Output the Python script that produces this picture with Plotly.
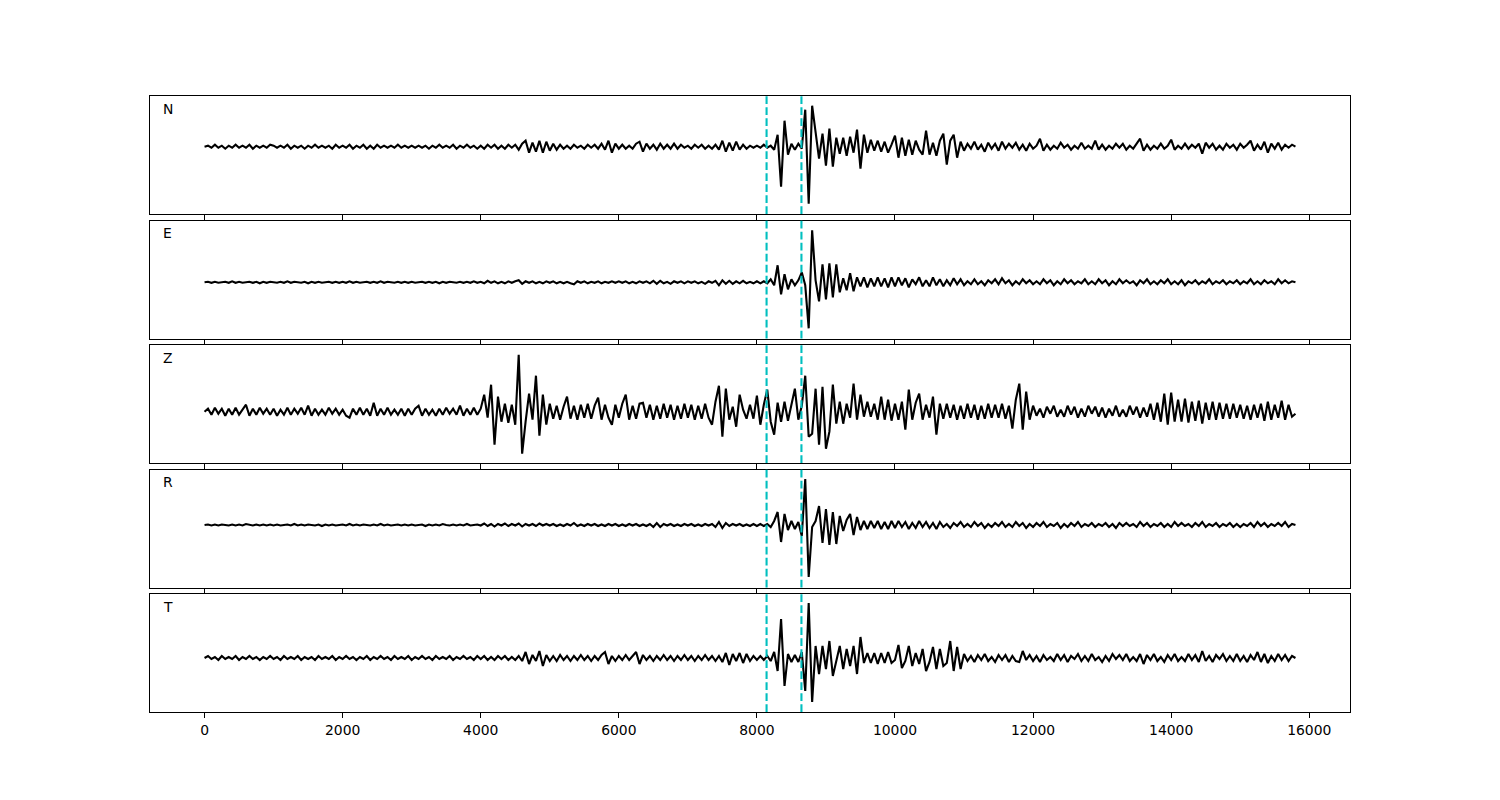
import numpy as np
import plotly.graph_objects as go

# ---------------- data (amplitudes, arbitrary units) ----------------
sample_step = 50
components = ["N", "E", "Z", "R", "T"]
picks = [8140, 8645]      # phase picks (dashed cyan lines)
x_ticks = [0, 2000, 4000, 6000, 8000, 10000, 12000, 14000, 16000]

N_values = [
    0, 1, -1, 2, -1, 1, -2, 1, -1, 2, -1, 1, -1, 2, -2, 1, -1, 1, -1, 2,
    1, -1, 1, -1, 2, -2, 1, -1, 1, -2, 1, -1, 2, -1, 1, -1, 1, -2, 2, -1,
    1, -1, 2, -2, 1, -1, 2, -2, 1, -2, 2, -1, 1, -1, 1, -1, 2, -1, 1, -1,
    1, -1, 1, -1, 1, -2, 1, -1, 2, -1, 1, -1, 2, -2, 1, -1, 2, -1, 1, -2,
    1, -2, 2, -1, 2, -2, 1, -2, 2, -1, 2, -3, 3, 6, -6, 4, -5, 6, -6, 5,
    -4, 3, -3, 2, -2, 1, -2, 2, -1, 1, -2, 2, -1, 2, -2, 3, -3, 6, -6, 3,
    -2, 2, -2, 1, -2, 3, 5, -5, 3, -2, 2, -3, 3, -2, 2, -2, 3, -2, 2, -1,
    1, -2, 2, -1, 2, -2, 1, -2, 2, -3, 6, -5, 4, -4, 5, -3, 2, -2, 1, -1,
    1, -1, 2, -1, 1, -3, 12, -40, 26, -8, 3, -3, 3, -2, 37, -57, 41, 15, -12, 13,
    -19, 18, -20, 9, -7, 9, -9, 10, -6, 17, -22, 12, -6, 7, -4, 6, -5, 5, -6, 2,
    11, -11, 9, -9, 7, -8, 6, -3, -8, 16, -8, 4, -9, 6, 13, -18, 6, 12, -11, 5,
    -4, 3, -2, 5, -3, 2, -5, 4, -2, 3, -4, 5, -2, 3, -1, 4, -3, 2, -4, 3,
    -2, 1, 8, -4, 2, -3, 1, -2, 4, -1, 2, -3, 1, -2, 4, -2, 1, -2, 6, -3,
    2, -3, 1, -2, 3, -1, 3, -3, 1, -2, 3, 8, -4, 2, -3, 1, -2, 3, -2, 1,
    7, -3, 1, -2, 3, -2, 2, -1, 3, -7, 4, -1, 3, -3, 1, -3, 3, -1, 2, -3,
    3, -1, 2, 6, -4, 2, -3, 5, -6, 3, -2, 4, -3, 2, -1, 2, 0,
]

E_values = [
    0, 0.5, -0.5, 0.5, -0.5, 0, 0.5, -0.5, 1, -0.5, 0.5, -0.5, 0, 0.5, -0.5, 0.5, -1, 0.5, -0.5, 0.5,
    0, -0.5, 0.5, -0.5, 1, -0.5, 0.5, 0, -0.5, 0.5, -1, 0.5, -0.5, 0.5, -0.5, 0, 0.5, -0.5, 0.5, -0.5,
    0.5, -0.5, 1, -0.5, 0.5, -0.5, 0, 0.5, -0.5, 0.5, -0.5, 1, -0.5, 0.5, 0, -0.5, 0.5, -0.5, 0.5, -0.5,
    0.5, -0.5, 0, 0.5, -0.5, 0.5, -0.5, 0.5, -1, 0.5, -0.5, 0.5, 0, -0.5, 0.5, -0.5, 0.5, -0.5, 1, -0.5,
    0.5, -1, 1.5, -0.5, 1, -1, 0.5, -1, 1, -0.5, 1, 2, -1.5, 1, -0.5, 1, -1, 0.5, -1, 1,
    -0.5, 1, -1, 0.5, -1, 0.5, -1, -2, 1, -0.5, 1, -1, 0.5, -0.5, 1, -1, 0.5, -0.5, 1, -0.5,
    1, -0.5, 1, -1, 0.5, -1, 1, -0.5, 1, -1, 1.5, -1.5, 1.5, -1, 0.5, -1.5, 1, -0.5, 1, -1,
    1, -0.5, 1, -1, 0.5, -1.5, 1, -0.5, 1.5, -3, 2, -1.5, 1.5, -1.5, 1, -1, 1.5, -1, 0.5, -1,
    1, -1, 1, -1, 3, -3, 17, -12, 8, -7, 3, -3, 2, 10, -3, -46, 52, 2, -19, 18,
    -17, 19, -15, 18, -10, 4, -8, 9, -9, 5, -4, 5, -5, 4, -4, 5, -4, 4, -5, 5,
    -4, 5, -3, 4, -5, 3, -2, 5, -4, 2, -4, 5, -3, 3, -4, 2, -3, 4, -2, 3,
    -3, 1, -2, 3, -2, 1, -3, 2, -1, 3, -2, 4, -1, 2, -3, 1, -2, 3, -1, 2,
    -2, 1, -2, 3, -1, 2, -3, 1, -2, 3, -1, 2, -2, 1, -1, 3, -2, 1, -2, 3,
    -1, 2, -3, 1, -2, 3, -1, 2, -1, 1, -3, 2, -1, 3, -2, 1, -2, 2, -1, 3,
    -2, 1, -2, 2, -3, 1, -1, 2, -2, 1, -1, 3, -2, 1, -1, 2, -2, 1, -1, 2,
    -2, 1, -1, 3, -2, 1, -2, 2, -1, 1, -2, 3, -1, 2, -1, 1, 0,
]

Z_values = [
    0, 3, -3, 4, -2, 3, -4, 3, -3, 4, -3, 2, 7, -4, 3, -3, 4, -2, 3, -3,
    3, -4, 2, -3, 4, -3, 3, -2, 4, -3, 6, -4, 3, -3, 2, -3, 4, -2, 3, -3,
    2, -4, -6, 3, -3, 4, -3, 3, -4, 9, -4, 3, -3, 4, -3, 2, -3, 3, -4, 3,
    -3, 3, 6, -4, 3, -3, 2, -4, 3, -3, 4, -2, 3, -3, 6, -4, 3, -3, 4, -3,
    3, 17, -6, 27, -33, 15, -10, 8, -11, 7, -13, 57, -42, -10, 18, -8, 36, -24, 17, -13,
    8, -7, 6, -8, 5, 15, -7, 6, -8, 7, -6, 8, -7, 6, 14, -8, 7, -6, -13, 7,
    -6, 8, 17, -8, 6, -7, 8, 9, -6, 7, -8, 6, -7, 8, -6, 7, -8, 6, -7, 8,
    -6, 7, -8, 6, -7, 8, -6, -13, 10, 26, -25, 23, -8, 5, -15, 17, 2, -7, 7, -7,
    16, -13, 7, 22, -10, -23, 9, -10, 10, -9, 8, 23, -8, 6, 36, -25, -22, 23, -33, 25,
    -37, -20, 27, -12, 10, -12, 8, -6, 28, -8, 17, -5, 10, -5, 8, -8, 15, -8, 12, -9,
    8, -8, 10, -18, 22, -8, 9, 18, -8, 7, -6, 15, -23, 8, -7, 8, -6, 7, -8, 6,
    -7, 8, -6, 7, -8, 6, -7, 8, -6, 7, -6, 8, -7, 6, -17, 12, 28, -18, 20, -8,
    6, -4, 3, -6, 5, -2, 6, -5, 2, -5, 6, -3, 5, -6, 3, -5, 6, -2, 5, -5,
    4, -6, 3, -4, 6, -5, 2, -5, 6, -3, 5, -6, 4, -5, 8, -8, 9, -10, 18, -13,
    19, -10, 12, -10, 13, -11, 10, -9, 11, -12, 9, -8, 10, -8, 9, -7, 8, -7, 8, -6,
    7, -7, 6, -8, 7, -6, 8, -9, 10, -8, 7, -6, 11, -8, 7, -5, -2,
]

R_values = [
    0, 0.5, -0.5, 0.5, -0.5, 0.5, 0, -0.5, 0.5, -0.5, 0.5, -0.5, 1, 0, -0.5, 0.5, -0.5, 0.5, -0.5, 0.5,
    -0.5, 0.5, -0.5, 0, 0.5, -0.5, 1, -0.5, 0.5, -0.5, 0.5, 0, -0.5, 0.5, -1, 0.5, -0.5, 0.5, -0.5, 0,
    0.5, -0.5, 1, -0.5, 0.5, -0.5, 0.5, 0, -0.5, 0.5, -0.5, 1, -0.5, 0.5, -0.5, 0, 0.5, -0.5, 0.5, -0.5,
    0.5, -0.5, 0, 0.5, -1, 0.5, -0.5, 0.5, -0.5, 1, 0, -0.5, 0.5, -0.5, 0.5, -0.5, 1, -0.5, 0, 0.5,
    -0.5, 1.5, -1, 1, -1.5, 1, -0.5, 1.5, -1, 1, -0.5, 1.5, -1.5, 1, -0.5, 1, -1, 1.5, -0.5, 1,
    -0.5, 1, -1, 0.5, -1, 1, -0.5, 2, -1, 0.5, -1, 1, -0.5, 1, -1, 0.5, -1, 1, -0.5, 1,
    -1, 0.5, -1, 1, -0.5, 1, -1, 0.5, -1, 1, -2, 2, -2, 1, -0.5, 1, -1, 0.5, -1, 1,
    -0.5, 1, -1, 0.5, -1, 1, -0.5, 1, -2, 3, -3, 2, -1, 1, -0.5, 1, -1, 0.5, -1, 1,
    -1, 1, -1, 1, -2, 4, 13, -17, 11, -5, 4, -4, 3, -11, 46, -52, -2, 4, 19, -18,
    16, -20, 13, -19, 9, -6, 5, 11, -10, 8, -5, 4, -4, 4, -3, 4, -4, 3, -4, 4,
    -3, 4, -2, 3, -4, 2, -3, 4, -2, 3, -3, 2, -4, 3, -2, 1, -3, 2, -1, 3,
    -2, 1, -2, 3, -1, 2, -3, 1, -2, 2, -1, 3, -2, 1, -2, 3, -1, 2, -3, 1,
    -2, 2, -1, 3, -2, 1, -1, 2, -3, 1, -2, 2, -1, 3, -2, 1, -1, 2, -2, 1,
    -1, 2, -2, 1, -3, 2, -1, 2, -1, 1, -2, 3, -1, 2, -2, 1, -1, 2, -2, 1,
    -2, 3, -1, 2, -1, 1, -2, 2, -1, 3, -2, 1, -1, 2, -2, 1, -1, 2, -2, 1,
    -2, 1, -1, 2, -2, 3, -1, 2, -2, 1, -1, 2, -1, 3, -2, 1, 0,
]

T_values = [
    0, 2, -1, 1, -2, 2, -1, 1, -1, 2, -2, 1, -1, 2, -1, 1, -2, 1, -1, 2,
    -1, 1, -2, 2, -1, 1, -1, 2, -2, 1, -1, 1, -2, 2, -1, 1, -1, 2, -2, 1,
    -1, 2, -1, 1, -2, 1, -1, 2, -2, 1, -1, 2, -1, 1, -2, 2, -1, 1, -1, 2,
    -2, 1, -1, 2, -1, 1, -2, 2, -1, 1, -1, 2, -2, 1, -1, 2, -1, 1, -2, 2,
    -1, 2, -2, 1, -2, 2, -1, 2, -2, 1, -2, 2, -3, 6, -6, 3, -3, 7, -8, 3,
    -3, 2, -3, 3, -2, 2, -3, 2, -2, 3, -2, 2, -3, 2, -2, 3, 6, -6, 2, -3,
    2, -2, 3, -2, 2, 6, -6, 3, -2, 2, -3, 2, -2, 3, -2, 2, -3, 2, -2, 3,
    -2, 2, -3, 2, -2, 3, -2, 2, -3, 2, -4, 5, -7, 4, -3, 5, -5, 4, -3, 2,
    -2, 2, -2, 2, -3, 6, -13, 39, -28, 4, -4, 3, -4, 6, -33, 55, -44, 12, -16, 12,
    -11, 17, -18, -4, 12, -11, 9, -8, 12, -16, 21, -5, 5, -5, 5, -6, 5, -5, 6, -5,
    -2, 13, -10, -3, 12, -8, 5, -6, 9, -13, -4, 11, -11, 9, -8, -5, 17, -13, 11, -11,
    4, -3, 2, -4, 3, -2, 4, -3, 1, -4, 3, -2, 3, -4, 2, -3, -4, 7, -2, 3,
    -3, 2, -4, 3, -2, 1, -3, 4, -2, 3, -4, 2, -1, 4, -3, 2, -3, 4, -2, 1,
    -4, 2, -3, 4, -1, 3, -2, 4, -3, 1, -3, 4, -6, 3, -2, 4, -3, 1, -4, 3,
    -2, 4, -3, 1, -3, 4, -2, 3, -4, 7, -3, 2, -4, 3, -1, 4, -3, 2, -3, 4,
    -3, 2, -4, 3, -2, 6, -4, 4, -5, 2, -3, 4, -2, 3, -3, 2, 0,
]

traces = {"N": N_values, "E": E_values, "Z": Z_values, "R": R_values, "T": T_values}

# ---------------- figure ----------------
W, H = 1500, 800
m_top, m_bot, m_left, m_right = 96, 88, 150, 150
panel_px = 118.0
gap_px = 6.5
plot_h = H - m_top - m_bot

# vertical view of each panel (amplitude units), set to match the reference framing
y_views = {
    "N": [-67.3, 50.7],
    "E": [-56.2, 61.8],
    "Z": [-51.3, 66.7],
    "R": [-62.5, 55.5],
    "T": [-54.0, 64.0],
}
x_view = [-790, 16590]
FONT = "DejaVu Sans"

fig = go.Figure()
layout = dict(
    width=W, height=H,
    margin=dict(l=m_left, r=m_right, t=m_top, b=m_bot, pad=0),
    paper_bgcolor="white", plot_bgcolor="white",
    showlegend=False,
    font=dict(family=FONT, size=13.9, color="black"),
)
shapes = []
annotations = []
n = len(components)
for i, comp in enumerate(components):
    k = "" if i == 0 else str(i + 1)
    vals = traces[comp]
    t = np.arange(len(vals)) * sample_step
    fig.add_trace(go.Scatter(
        x=t, y=vals, mode="lines",
        line=dict(color="black", width=2.1),
        xaxis="x" + k, yaxis="y" + k, hoverinfo="skip",
    ))
    top_px = i * (panel_px + gap_px)
    d_top = 1 - top_px / plot_h
    d_bot = 1 - (top_px + panel_px) / plot_h
    layout["xaxis" + k] = dict(
        domain=[0, 1], anchor="y" + k, range=x_view,
        showline=True, mirror=True, linecolor="black", linewidth=1.1,
        ticks="outside", ticklen=5, tickwidth=1.1, tickcolor="black",
        tickvals=x_ticks, ticktext=[str(v) for v in x_ticks],
        tickfont=dict(family=FONT, size=13.9, color="black"),
        showticklabels=(i == n - 1), showgrid=False, zeroline=False,
        matches=None if i == 0 else "x",
    )
    layout["yaxis" + k] = dict(
        domain=[max(d_bot, 0), min(d_top, 1)], anchor="x" + k, range=y_views[comp],
        showline=True, mirror=True, linecolor="black", linewidth=1.1,
        ticks="", showticklabels=False, showgrid=False, zeroline=False,
    )
    for p in picks:
        shapes.append(dict(
            type="line", xref="x" + k, yref="y" + k + " domain",
            x0=p, x1=p, y0=0, y1=1,
            line=dict(color="#00bfbf", width=2.1, dash="7.7px,3.3px"),
            layer="above",
        ))
    annotations.append(dict(
        text=comp, xref="x" + k + " domain", yref="y" + k + " domain",
        x=0.009, y=1 - 12.7 / panel_px, xanchor="left", yanchor="middle",
        showarrow=False, font=dict(family=FONT, size=13.9, color="black"),
    ))

layout["shapes"] = shapes
layout["annotations"] = annotations
fig.update_layout(**layout)
fig.write_html(
    "out.html",
    config={"displayModeBar": False},
    post_script="document.body.style.margin='0';document.body.style.padding='0';",
)
